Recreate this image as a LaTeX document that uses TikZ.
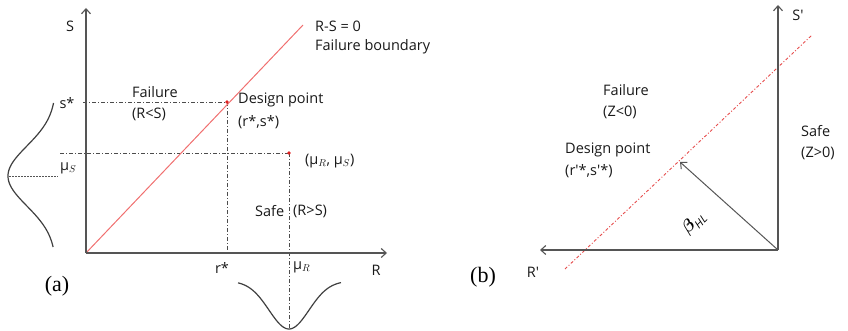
\documentclass[tikz,border=0pt]{standalone}
\usepackage{amsmath}
\usepackage{fontspec}
\setmainfont{Open Sans}
\newfontfamily\capfont{Liberation Serif}
\usetikzlibrary{arrows.meta}
\definecolor{axisgray}{HTML}{555555}
\definecolor{boundred}{HTML}{F07070}
\definecolor{dotred}{HTML}{E02020}
\begin{document}
\begin{tikzpicture}[x=1pt,y=-1pt,
  axis/.style={draw=axisgray,line width=1.1pt,-{Straight Barb[length=5pt,width=9pt]}},
  guide/.style={draw=axisgray!90!black,line width=0.7pt,dash pattern=on 4pt off 2pt on 1pt off 2pt},
  curve/.style={draw=black!75,line width=1.2pt},
  lbl/.style={font=\fontsize{14.5}{16}\selectfont,inner sep=0pt,text=black!90},
  lbll/.style={lbl,anchor=west},
  capstyle/.style={font=\capfont\fontsize{22}{24}\selectfont,inner sep=0pt},
]
\useasboundingbox (0,0) rectangle (848,331);
% ---------- panel (a) ----------
\coordinate (O) at (86,253);
\coordinate (Stop) at (86,8);
\coordinate (Rend) at (387,253);
\coordinate (Btop) at (303,25);
\coordinate (DP) at (227,102);
\coordinate (MU) at (289,153);
\coordinate (sL) at (83,102);
\coordinate (muL) at (60,153);
\coordinate (rB) at (227,253);
\coordinate (muB) at (289,329);
\draw[guide] (sL) -- (DP);
\draw[guide] (muL) -- (MU);
\draw[guide] (DP) -- (rB);
\draw[guide] (MU) -- (muB);
\draw[boundred,line width=1pt] (O) -- (Btop);
\draw[axis] (O) -- (Stop);
\draw[axis] (O) -- (Rend);
\fill[dotred] (DP) circle (1.8);
\fill[dotred] (MU) circle (1.8);
% distributions
\draw[curve] plot[domain=103:247,samples=80,smooth] ({56-48*exp(-((\x-176)/30)^2/2)},\x);
\coordinate (pk) at (9,176);
\coordinate (pkR) at (58,176);
\draw[axisgray,line width=0.8pt,dash pattern=on 2pt off 1pt] (pk) -- (pkR);
\draw[curve] plot[domain=238:341,samples=80,smooth] (\x,{281+48*exp(-((\x-289)/20)^2/2)});
% labels
\node[lbl] (S) at (70,26) {S};
\node[lbll] (rs0) at (315,26) {R-S = 0};
\node[lbll] (fb) at (315,47) {Failure boundary};
\node[lbll] (fa) at (132,92) {Failure};
\node[lbll] (fa2) at (132,114) {(R<S)};
\node[lbll] (dpa) at (238,100) {Design point};
\node[lbll] (dpa2) at (238,122) {(r*,s*)};
\node[lbll] (mus) at (305,161) {(μ$_{R}$, μ$_{S}$)};
\node[lbll] (safe) at (255,211) {Safe};
\node[lbll] (safe2) at (293,211) {(R>S)};
\node[lbl] (sstar) at (67,103) {s*};
\node[lbll] (muS) at (60,168) {μ$_{S}$};
\node[lbl] (rstar) at (222,268) {r*};
\node[lbll] (muR) at (293,267) {μ$_{R}$};
\node[lbl] (R) at (376,270) {R};
\node[capstyle] (a) at (57,286) {(a)};
% ---------- panel (b) ----------
\coordinate (O2) at (778,250);
\coordinate (Sp) at (778,5);
\coordinate (Rp) at (540,250);
\coordinate (L1) at (565,269);
\coordinate (L2) at (812,35);
\coordinate (DP2) at (680,162);
\draw[dotred!80,line width=0.9pt,dash pattern=on 3pt off 2pt on 1pt off 2pt] (L1) -- (L2);
\draw[axis] (O2) -- (Sp);
\draw[axis] (O2) -- (Rp);
\draw[axis,line width=1pt] (O2) -- (DP2);
\node[lbl] (Sprime) at (798,15) {S\textquotesingle};
\node[lbl] (Rprime) at (533,272) {R\textquotesingle};
\node[capstyle] (b) at (483,277) {(b)};
\node[lbll] (fb1) at (603,90) {Failure};
\node[lbll] (fb2) at (603,112) {(Z<0)};
\node[lbll] (dpb) at (565,150) {Design point};
\node[lbll] (dpb2) at (565,171) {(r\textquotesingle*,s\textquotesingle*)};
\node[lbll] (sb1) at (801,131) {Safe};
\node[lbll] (sb2) at (801,153) {(Z>0)};
\node[inner sep=0pt,rotate=45,font=\fontsize{16}{18}\selectfont] (beta) at (694,223) {$\boldsymbol{\beta}_{\mathit{HL}}$};
\end{tikzpicture}
\end{document}
